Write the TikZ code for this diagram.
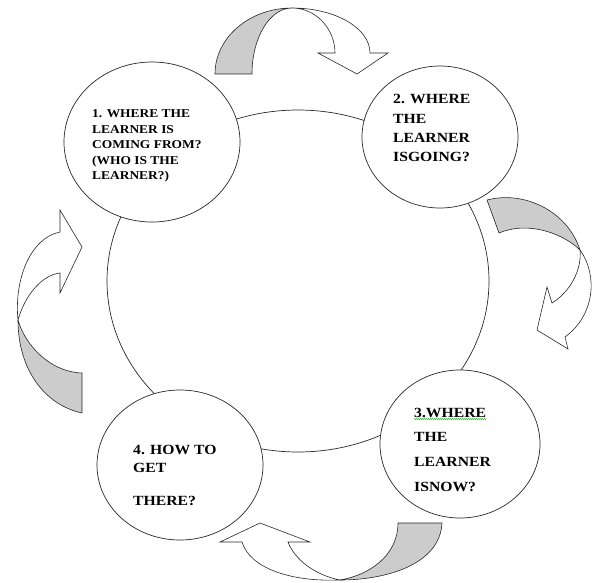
\documentclass[tikz,border=0pt]{standalone}
\usepackage{fontspec}
\setmainfont{Liberation Serif}[FakeStretch=1.12]
\usetikzlibrary{shapes.geometric,decorations.pathmorphing}
\definecolor{bandgray}{RGB}{204,204,204}
\definecolor{inkline}{RGB}{40,40,40}
\tikzset{
  ring/.style={ellipse, draw=inkline, line width=0.7pt, inner sep=0pt},
  bubble/.style={ellipse, draw=inkline, fill=white, line width=0.7pt, inner sep=0pt},
  labsmall/.style={anchor=base west, inner sep=0pt, font=\bfseries\fontsize{12}{14}\selectfont},
  labbig/.style={anchor=base west, inner sep=0pt, font=\bfseries\fontsize{14}{16}\selectfont},
  backband/.style={fill=bandgray, draw=inkline, line width=0.6pt, line join=round},
  frontband/.style={fill=white, draw=inkline, line width=0.6pt, line join=miter},
  spell/.style={draw=green!55!black, line width=0.4pt, decorate, decoration={snake, amplitude=0.5pt, segment length=2pt}}
}
\begin{document}
\begin{tikzpicture}[x=1pt,y=-1pt]
\useasboundingbox (0,0) rectangle (598,582);
% main cycle
\node[ring, minimum width=382pt, minimum height=342pt] (ring) at (298,281) {};
% bubbles
\node[bubble, minimum width=176pt, minimum height=160pt] (c1) at (152,142) {};
\node[bubble, minimum width=156pt, minimum height=142pt] (c2) at (440,137) {};
\node[bubble, minimum width=160pt, minimum height=148pt] (c3) at (460,444) {};
\node[bubble, minimum width=166pt, minimum height=150pt] (c4) at (180,465) {};
% texts circle 1
\node[labsmall] (t1a) at (92,117) {1. WHERE THE};
\node[labsmall] (t1b) at (92,133) {LEARNER IS};
\node[labsmall] (t1c) at (92,148) {COMING FROM?};
\node[labsmall] (t1d) at (92,164) {(WHO IS THE};
\node[labsmall] (t1e) at (92,179) {LEARNER?)};
% circle 2
\node[labbig] (t2a) at (393,103) {2. WHERE};
\node[labbig] (t2b) at (393,123) {THE};
\node[labbig] (t2c) at (393,142.5) {LEARNER};
\node[labbig] (t2d) at (393,161) {ISGOING?};
% circle 3
\node[labbig] (t3a) at (414,417) {3.WHERE};
\node[labbig] (t3b) at (414,441) {THE};
\node[labbig] (t3c) at (414,466.5) {LEARNER};
\node[labbig] (t3d) at (414,491) {ISNOW?};
\draw[spell] ([yshift=-2pt]t3a.base west) -- ([yshift=-2pt]t3a.base east);
% circle 4
\node[labbig] (t4a) at (133,454) {4. HOW TO};
\node[labbig] (t4b) at (133,472) {GET};
\node[labbig] (t4c) at (133,505) {THERE?};
% top arrow
\draw[backband] (215,74) .. controls (215,37.5) and (249.5,8) .. (292,8)
  .. controls (269.9,8) and (252,37.5) .. (252,74) -- cycle;
\draw[frontband] (292,8) .. controls (335,8) and (370,28) .. (370,53) -- (388,53) -- (357,74)
  -- (318,53) -- (335,53) .. controls (335,29) and (316,8) .. (292,8) -- cycle;
% right arrow
\draw[backband] (487,200) .. controls (525,190) and (568,212) .. (580,250)
  .. controls (565,235) and (530,220) .. (499,233) -- cycle;
\draw[frontband] (580,250) .. controls (598,275) and (595,315) .. (565,337) -- (568,349) -- (537,330)
  -- (547,287) -- (552,303) .. controls (570,292) and (582,270) .. (580,250) -- cycle;
% left arrow
\draw[backband] (82,413) .. controls (45,405) and (18,370) .. (18,320)
  .. controls (25,345) and (50,372) .. (82,373) -- cycle;
\draw[frontband] (18,320) .. controls (14,280) and (30,238) .. (60,232) -- (60,210) -- (82,247)
  -- (60,293) -- (60,273) .. controls (42,275) and (25,295) .. (18,320) -- cycle;
% bottom arrow
\draw[backband] (442,523) .. controls (440,565) and (385,580) .. (340,580)
  .. controls (370,575) and (398,555) .. (398,523) -- cycle;
\draw[frontband] (340,580) .. controls (290,582) and (250,568) .. (242,542) -- (220,542) -- (260,523)
  -- (310,542) -- (288,542) .. controls (295,560) and (315,575) .. (340,580) -- cycle;
\end{tikzpicture}
\end{document}
